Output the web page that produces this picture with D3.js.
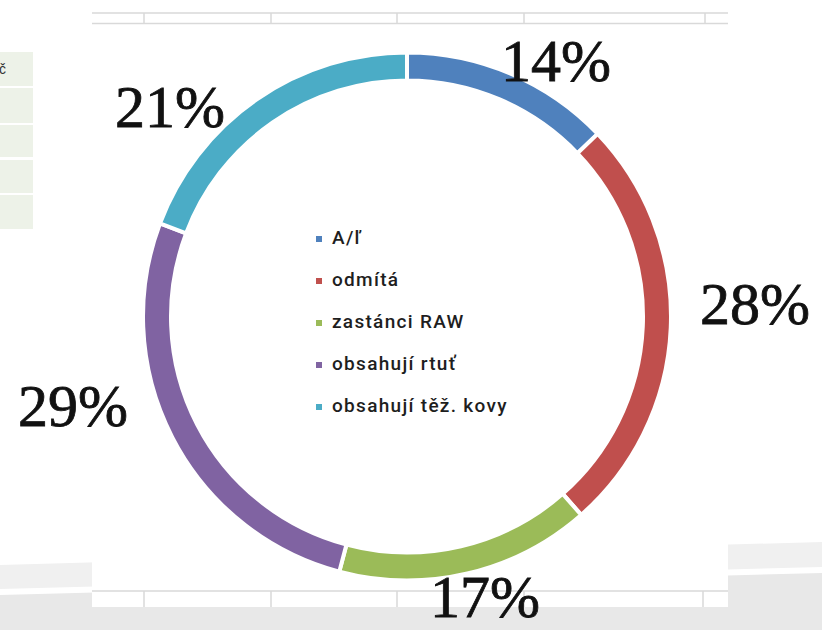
<!DOCTYPE html>
<html>
<head>
<meta charset="utf-8">
<script src="https://cdn.jsdelivr.net/npm/d3@7/dist/d3.min.js"></script>
<style>
  html, body { margin: 0; padding: 0; background: #fff; }
  svg { display: block; }
</style>
</head>
<body>
<svg id="chart" width="822" height="630"></svg>
<script>
// Survey answers shown as a ring
const categories = ["A/ľ", "odmítá", "zastánci RAW", "obsahují rtuť", "obsahují těž. kovy"];
const values = [14, 28, 17, 29, 21];
const colors = ["#4f81bd", "#c0504d", "#9bbb59", "#8064a2", "#4bacc6"];

// Gridline ticks of the surrounding sheet
const topTicks = [144, 271, 397, 524, 705];
const bottomTicks = [144, 271, 397, 524, 703];

const svg = d3.select("#chart");

// --- page background: side table and grey swoosh ---
const tableRows = [[52, 86], [88, 123], [125, 157], [160, 193], [195, 229]];
svg.selectAll("rect.cell").data(tableRows).join("rect")
  .attr("class", "cell")
  .attr("x", 0).attr("width", 33)
  .attr("y", d => d[0]).attr("height", d => d[1] - d[0])
  .attr("fill", "#edf2e8");
svg.append("text").attr("x", -1).attr("y", 74)
  .attr("font-family", "Liberation Sans, Arial, sans-serif")
  .attr("font-size", 14).attr("fill", "#333").text("č");

svg.append("polygon")
  .attr("points", "0,565 822,542 822,567 0,589")
  .attr("fill", "#f0f0f0");
svg.append("polygon")
  .attr("points", "0,595 822,573 822,630 0,630")
  .attr("fill", "#e8e8e8");

// --- chart area ---
const area = { x0: 92, x1: 728, y0: 12, y1: 607 };
svg.append("rect")
  .attr("x", area.x0).attr("y", area.y0)
  .attr("width", area.x1 - area.x0).attr("height", area.y1 - area.y0)
  .attr("fill", "#fff");

const grid = svg.append("g").attr("stroke", "#d9d9d9").attr("stroke-width", 1.5);
grid.append("line").attr("x1", area.x0).attr("x2", area.x1).attr("y1", 13).attr("y2", 13);
grid.append("line").attr("x1", area.x0).attr("x2", area.x1).attr("y1", 23.5).attr("y2", 23.5);
grid.selectAll("line.tt").data(topTicks).join("line").attr("class", "tt")
  .attr("x1", d => d).attr("x2", d => d).attr("y1", 13).attr("y2", 24);
grid.append("line").attr("x1", area.x0).attr("x2", area.x1).attr("y1", 591).attr("y2", 591);
grid.selectAll("line.bt").data(bottomTicks).join("line").attr("class", "bt")
  .attr("x1", d => d).attr("x2", d => d).attr("y1", 591).attr("y2", 607);

// --- ring ---
const cx = 407, cy = 316.5;
const outerR = 264, innerR = 236;

const pie = d3.pie().sort(null).value(d => d)
  .startAngle(0).endAngle(2 * Math.PI);
const arc = d3.arc().innerRadius(innerR).outerRadius(outerR);
const arcs = pie(values);

const defs = svg.append("defs");
defs.append("filter").attr("id", "soft")
  .append("feGaussianBlur").attr("stdDeviation", 0.6);

svg.append("g")
  .attr("transform", `translate(${cx},${cy})`)
  .attr("filter", "url(#soft)")
  .selectAll("path").data(arcs).join("path")
  .attr("d", arc)
  .attr("fill", (d, i) => colors[i])
  .attr("stroke", "#fff")
  .attr("stroke-width", 4)
  .attr("stroke-linejoin", "miter");

// --- percentage labels ---
const labelAt = [[556, 81], [755, 324], [485, 617], [73, 426], [170, 127]];
svg.append("g").selectAll("text").data(arcs).join("text")
  .attr("x", (d, i) => labelAt[i][0])
  .attr("y", (d, i) => labelAt[i][1])
  .attr("text-anchor", "middle")
  .attr("font-family", "Liberation Serif, 'DejaVu Serif', serif")
  .attr("font-size", 60)
  .attr("fill", "#111")
  .attr("stroke", "#111")
  .attr("stroke-width", 0.8)
  .text(d => d.data + "%");

// --- legend in the hole ---
const legend = svg.append("g").attr("transform", "translate(316,237)");
const row = legend.selectAll("g").data(categories).join("g")
  .attr("transform", (d, i) => `translate(0,${i * 42})`);
row.append("rect").attr("x", 0).attr("y", -1).attr("width", 6).attr("height", 6)
  .attr("fill", (d, i) => colors[i]);
row.append("text").attr("x", 16).attr("y", 2)
  .attr("dominant-baseline", "middle")
  .attr("font-family", "Roboto, 'Open Sans', sans-serif")
  .attr("font-weight", 500)
  .attr("font-size", 19)
  .attr("letter-spacing", 1.3)
  .attr("fill", "#1e1e1e")
  .text(d => d);
</script>
</body>
</html>
